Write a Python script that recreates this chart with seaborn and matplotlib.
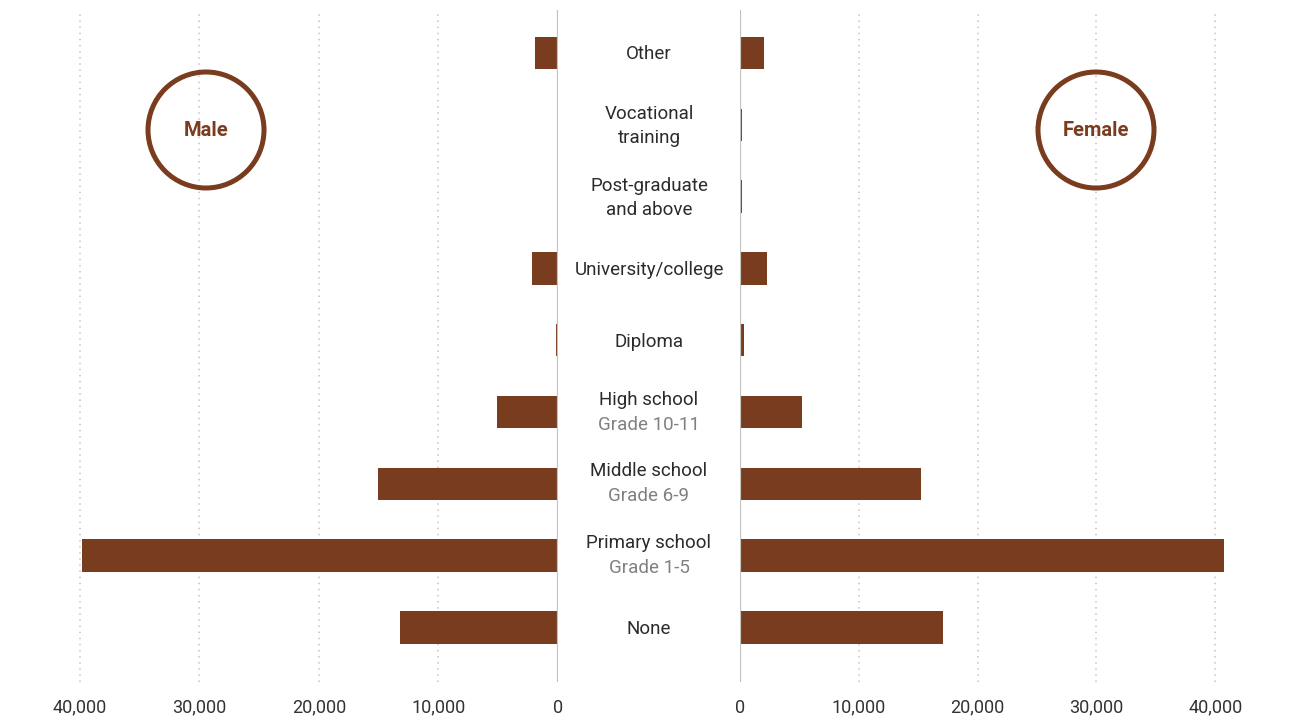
import pandas as pd
import seaborn as sns
import matplotlib.pyplot as plt
from matplotlib.patches import Ellipse
from matplotlib.ticker import FuncFormatter
import matplotlib.transforms as mtransforms

categories = ["Other", "Vocational training", "Post-graduate and above",
              "University/college", "Diploma", "High school",
              "Middle school", "Primary school", "None"]
label_main = ["Other", "Vocational\ntraining", "Post-graduate\nand above",
              "University/college", "Diploma", "High school",
              "Middle school", "Primary school", "None"]
label_grade = ["", "", "", "", "", "Grade 10-11", "Grade 6-9", "Grade 1-5", ""]
male = [1900, 100, 80, 2200, 130, 5100, 15100, 39800, 13200]
female = [2000, 150, 150, 2250, 300, 5200, 15200, 40700, 17100]
ticks = [0, 10000, 20000, 30000, 40000]

df = pd.DataFrame({"Education": categories, "Male": male, "Female": female})

sns.set_style("white")
plt.rcParams["font.family"] = ["Roboto", "DejaVu Sans"]

BROWN = "#7A3C1F"
W, H = 1290, 722
fig = plt.figure(figsize=(12.9, 7.22), dpi=100)

bottom = 1 - 682 / H
height = 672 / H
ax_l = fig.add_axes([62 / W, bottom, 496 / W, height])
ax_r = fig.add_axes([740 / W, bottom, 499 / W, height])

sns.barplot(data=df, x="Male", y="Education", ax=ax_l, color=BROWN,
            width=0.45, linewidth=0, saturation=1)
sns.barplot(data=df, x="Female", y="Education", ax=ax_r, color=BROWN,
            width=0.45, linewidth=0, saturation=1)

ax_l.set_xlim(41500, 0)
ax_r.set_xlim(0, 42000)

fmt = FuncFormatter(lambda v, p: f"{int(v):,}")
for ax in (ax_l, ax_r):
    ax.set_ylim(8.76, -0.599)
    ax.set_xticks(ticks)
    ax.xaxis.set_major_formatter(fmt)
    ax.set_yticks([])
    ax.set_xlabel("")
    ax.set_ylabel("")
    for s in ax.spines.values():
        s.set_visible(False)
    ax.tick_params(axis="x", length=0, pad=12, labelsize=13, labelcolor="#333333")
    for t in ticks[1:]:
        ax.axvline(t, color="#c4c4c4", lw=1.1, ls=(0, (1, 3)), zorder=0)
    ax.axvline(0, color="#c2c2c2", lw=1.6, zorder=3)

# centre labels
trans = mtransforms.blended_transform_factory(fig.transFigure, ax_l.transData)
xc = 649 / W
for i, (m, g) in enumerate(zip(label_main, label_grade)):
    if g:
        ax_l.annotate(m, xy=(xc, i), xycoords=trans, xytext=(0, 9),
                      textcoords="offset points", ha="center", va="center",
                      fontsize=13.5, color="#2b2b2b", annotation_clip=False)
        ax_l.annotate(g, xy=(xc, i), xycoords=trans, xytext=(0, -9),
                      textcoords="offset points", ha="center", va="center",
                      fontsize=13.5, color="#808080", annotation_clip=False)
    else:
        ax_l.annotate(m, xy=(xc, i), xycoords=trans, xytext=(0, -1),
                      textcoords="offset points", ha="center", va="center",
                      fontsize=13.5, color="#2b2b2b", linespacing=1.45,
                      annotation_clip=False)

# gender badges
for name, cx in (("Male", 206), ("Female", 1096)):
    e = Ellipse((cx / W, 1 - 130 / H), 116 / W, 116 / H, transform=fig.transFigure,
                fill=False, edgecolor=BROWN, lw=3.6)
    fig.add_artist(e)
    fig.text(cx / W, 1 - 131 / H, name, ha="center", va="center",
             fontsize=14.5, fontweight="bold", color=BROWN)

plt.savefig("out.png", dpi=100)
plt.close()
